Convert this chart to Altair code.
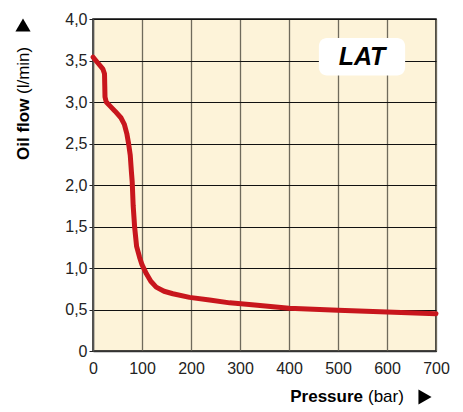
import altair as alt
import pandas as pd

# Curve: Oil flow (l/min) vs Pressure (bar)
pressure = [0, 10, 20, 23.5, 24, 24.5, 27, 35, 45, 57, 64, 69, 72.6, 76, 78.5, 80,
            82, 85, 89, 95, 100, 109, 118, 129, 145, 163, 197, 238, 279, 330,
            400, 500, 600, 700]
flow = [3.54, 3.47, 3.40, 3.34, 3.20, 3.06, 3.00, 2.95, 2.89, 2.81, 2.73, 2.62, 2.50,
        2.36, 2.15, 2.04, 1.75, 1.49, 1.26, 1.13, 1.04, 0.93, 0.84, 0.77, 0.72, 0.69,
        0.646, 0.615, 0.58, 0.555, 0.515, 0.49, 0.47, 0.45]

x_ticks = [0, 100, 200, 300, 400, 500, 600, 700]
y_ticks = [0, 0.5, 1.0, 1.5, 2.0, 2.5, 3.0, 3.5, 4.0]

badge_text = ["LAT"]
badge_x = [461]
badge_x2 = [637]
badge_y = [3.32]
badge_y2 = [3.77]
badge_cx = [549]
badge_cy = [3.545]

df = pd.DataFrame({"p": pressure, "q": flow})
badge = pd.DataFrame({"t": badge_text, "x": badge_x, "x2": badge_x2, "y": badge_y,
                      "y2": badge_y2, "cx": badge_cx, "cy": badge_cy})
one = pd.DataFrame({"k": [0]})

FONT = "Liberation Sans"

xscale = alt.Scale(domain=[0, 700], nice=False, zero=True)
yscale = alt.Scale(domain=[0, 4], nice=False)

label_expr_y = "datum.value == 0 ? '0' : replace(format(datum.value, '.1f'), '.', ',')"

line = alt.Chart(df).mark_line(color="#c8161d", strokeWidth=5, strokeJoin="round",
                               strokeCap="round").encode(
    x=alt.X("p:Q", scale=xscale,
            axis=alt.Axis(values=x_ticks, title=None, ticks=False, labelPadding=9,
                          labelFont=FONT, labelFontSize=16, labelColor="#222",
                          domainColor="#333", domainWidth=1.5,
                          gridColor="#6f6a5c", gridWidth=1.3, labelFlush=False)),
    y=alt.Y("q:Q", scale=yscale,
            axis=alt.Axis(values=y_ticks, title=None, tickSize=4, tickColor="#222",
                          labelPadding=2, labelExpr=label_expr_y,
                          labelFont=FONT, labelFontSize=16, labelColor="#222",
                          domainColor="#555", domainWidth=1.5,
                          gridColor="#111", gridWidth=1.2, labelFlush=False)),
)

box = alt.Chart(badge).mark_rect(fill="white", cornerRadius=8).encode(
    x="x:Q", x2="x2:Q", y="y:Q", y2="y2:Q")

box_text = alt.Chart(badge).mark_text(font=FONT, fontSize=25, fontWeight="bold",
                                      fontStyle="italic", color="black").encode(
    x="cx:Q", y="cy:Q", text="t:N")

def txt(s, x, y, bold=False, angle=0, align="left", size=17):
    kw = dict(font=FONT, fontSize=size, color="black", align=align, baseline="middle",
              text=s)
    if bold:
        kw["fontWeight"] = "bold"
    if angle:
        kw["angle"] = angle
    return alt.Chart(one).mark_text(**kw).encode(x=alt.value(x), y=alt.value(y))

xt1 = txt("Pressure", 270, 378, bold=True, align="right")
xt2 = txt("(bar)", 275, 378)
xarrow = alt.Chart(one).mark_point(shape="triangle-right", filled=True, color="black",
                                   size=230, opacity=1).encode(
    x=alt.value(332), y=alt.value(378))

yt1 = txt("Oil flow", -69, 141, bold=True, angle=270)
yt2 = txt("(l/min)", -69, 75, angle=270)
yarrow = alt.Chart(one).mark_point(shape="triangle-up", filled=True, color="black",
                                   size=230, opacity=1).encode(
    x=alt.value(-70), y=alt.value(6))

chart = alt.layer(line, box, box_text, xt1, xt2, xarrow, yt1, yt2, yarrow).properties(
    width=343, height=332,
    autosize=alt.AutoSizeParams(type="none"),
    padding={"left": 85, "top": 11, "right": 19, "bottom": 61},
).configure(
    background="white"
).configure_view(
    fill="#fdf3d9", stroke="#111", strokeWidth=1.5
)

chart.save("out.html", embed_options={"renderer": "svg", "actions": False})
